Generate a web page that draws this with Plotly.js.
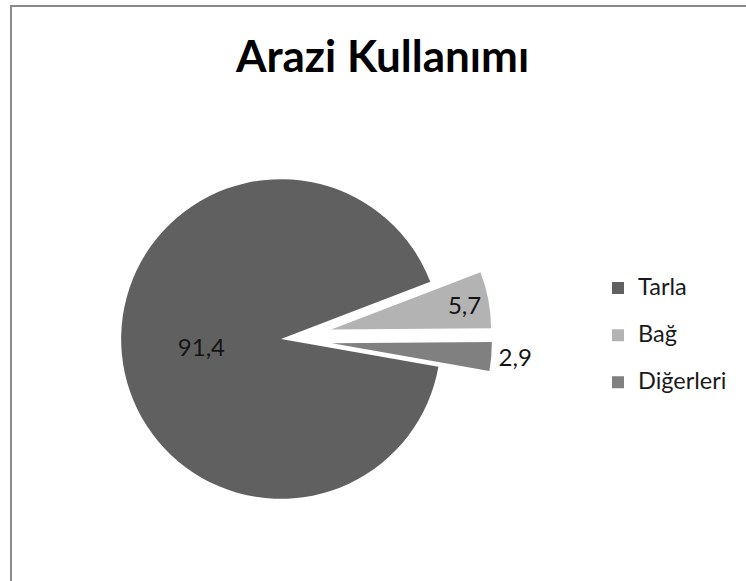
<!DOCTYPE html>
<html>
<head>
<meta charset="utf-8">
<script src="https://cdn.plot.ly/plotly-3.0.1.min.js"></script>
<style>html,body{margin:0;padding:0;background:#fff;}#chart{width:746px;height:581px;}</style>
</head>
<body>
<div id="chart"></div>
<script>
const chartTitle = 'Arazi Kullanımı';
const categories = ['Tarla', 'Bağ', 'Diğerleri'];
const values = [91.4, 5.7, 2.9];

const legendLabels = categories.map(c => '<span style="font-size:23.5px">' + c + '</span><br>&nbsp;');

const trace = {
  type: 'pie',
  labels: legendLabels,
  values: values,
  sort: false,
  direction: 'clockwise',
  rotation: 100,
  pull: [0, 0.32, 0.32],
  marker: { colors: ['#606060', '#b3b3b3', '#808080'], line: { width: 0 } },
  texttemplate: '%{value:.1f}',
  textposition: ['inside', 'inside', 'outside'],
  insidetextorientation: 'horizontal',
  textfont: { family: 'Lato, sans-serif', size: 24, color: '#141414' },
  insidetextfont: { family: 'Lato, sans-serif', size: 24, color: '#141414' },
  outsidetextfont: { family: 'Lato, sans-serif', size: 24, color: '#141414' },
  domain: { x: [70 / 746, 492 / 746], y: [31 / 581, 453 / 581] },
  hoverinfo: 'skip'
};

const layout = {
  width: 746,
  height: 581,
  margin: { l: 0, r: 0, t: 0, b: 0 },
  paper_bgcolor: '#ffffff',
  separators: ',.',
  title: {
    text: chartTitle,
    font: { family: 'Lato, sans-serif', size: 44, color: '#000000', weight: 'bold' },
    x: 382.5 / 746, xanchor: 'center', xref: 'container',
    y: 1 - 57 / 581, yanchor: 'middle', yref: 'container'
  },
  showlegend: true,
  legend: {
    x: 598 / 746, xanchor: 'left',
    y: 1 - 270.4 / 581, yanchor: 'top',
    valign: 'top',
    font: { family: 'Lato, sans-serif', size: 17, color: '#1a1a1a' },
    bgcolor: 'rgba(0,0,0,0)'
  },
  shapes: [{
    type: 'rect', xref: 'paper', yref: 'paper',
    x0: 11 / 746, x1: 1.05, y0: -0.05, y1: 1 - 6 / 581,
    line: { color: '#8a8a8a', width: 2 }, fillcolor: 'rgba(0,0,0,0)', layer: 'above'
  }]
};

Plotly.newPlot('chart', [trace], layout, { displayModeBar: false, staticPlot: true });
</script>
</body>
</html>
